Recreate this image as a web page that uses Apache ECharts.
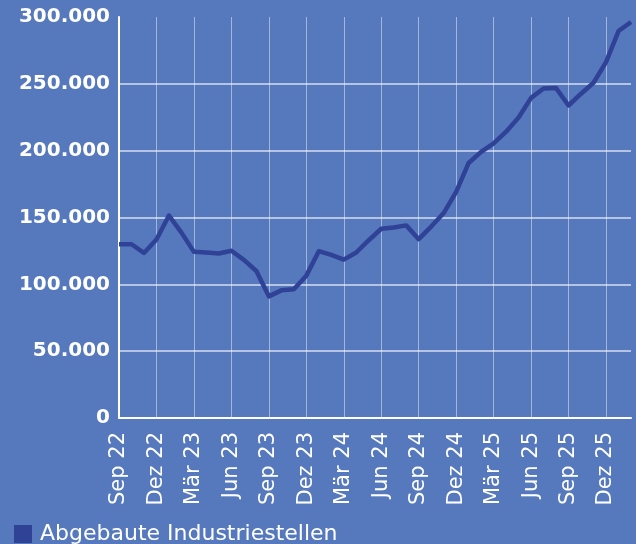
<!DOCTYPE html>
<html>
<head>
<meta charset="utf-8">
<script src="https://cdn.jsdelivr.net/npm/echarts@6/dist/echarts.min.js"></script>
<style>
html,body{margin:0;padding:0;background:#5679bd;}
#chart{width:636px;height:544px;}
</style>
</head>
<body>
<div id="chart"></div>
<script>
const categories = [
  'Sep 22','Okt 22','Nov 22','Dez 22','Jan 23','Feb 23','Mär 23','Apr 23','Mai 23','Jun 23','Jul 23','Aug 23',
  'Sep 23','Okt 23','Nov 23','Dez 23','Jan 24','Feb 24','Mär 24','Apr 24','Mai 24','Jun 24','Jul 24','Aug 24',
  'Sep 24','Okt 24','Nov 24','Dez 24','Jan 25','Feb 25','Mär 25','Apr 25','Mai 25','Jun 25','Jul 25','Aug 25',
  'Sep 25','Okt 25','Nov 25','Dez 25','Jan 26','Feb 26'
];
const seriesName = 'Abgebaute Industriestellen';
const values = [
  130000,130000,123500,133500,151500,138700,124300,123900,123100,125100,118300,110000,
  91000,95500,96300,106500,124800,122000,118500,123800,133000,141600,142500,144100,
  133800,143200,153300,169100,190800,199100,205500,214200,224800,239500,246500,246800,
  233800,242600,250800,266300,289500,296300
];
const yTicks = { min: 0, max: 300000, interval: 50000 };

const chart = echarts.init(document.getElementById('chart'), null, {renderer: 'canvas'});
chart.setOption({
  backgroundColor: '#5679bd',
  animation: false,
  grid: { left: 119, right: 5, top: 17, bottom: 126, containLabel: false },
  legend: {
    left: 14, top: 523, itemWidth: 18, itemHeight: 18, padding: 0,
    icon: 'rect',
    data: [seriesName],
    textStyle: { color: '#ffffff', fontFamily: 'DejaVu Sans', fontSize: 22, padding: [0,0,0,3] }
  },
  xAxis: {
    type: 'category',
    data: categories,
    boundaryGap: false,
    axisLine: { show: true, lineStyle: { color: '#ffffff', width: 2 } },
    axisTick: { show: false },
    axisLabel: {
      interval: 2, rotate: 90, margin: 14, color: '#ffffff',
      fontFamily: 'DejaVu Sans', fontSize: 21
    },
    splitLine: { show: true, interval: 2, lineStyle: { color: 'rgba(255,255,255,0.45)', width: 1 } }
  },
  yAxis: {
    type: 'value',
    min: yTicks.min, max: yTicks.max, interval: yTicks.interval,
    axisLine: { show: true, lineStyle: { color: '#ffffff', width: 2 } },
    axisTick: { show: false },
    axisLabel: {
      color: '#ffffff', fontFamily: 'DejaVu Sans', fontWeight: 'bold', fontSize: 20, margin: 9,
      formatter: v => v === 0 ? '0' : v.toLocaleString('de-DE')
    },
    splitLine: { show: true, showMaxLine: false, lineStyle: { color: 'rgba(255,255,255,0.75)', width: 1.5 } }
  },
  series: [{
    name: seriesName,
    type: 'line',
    data: values,
    showSymbol: false,
    symbol: 'none',
    itemStyle: { color: '#2f4296' },
    lineStyle: { color: '#2f4296', width: 4.5, join: 'round' }
  }]
});
</script>
</body>
</html>
